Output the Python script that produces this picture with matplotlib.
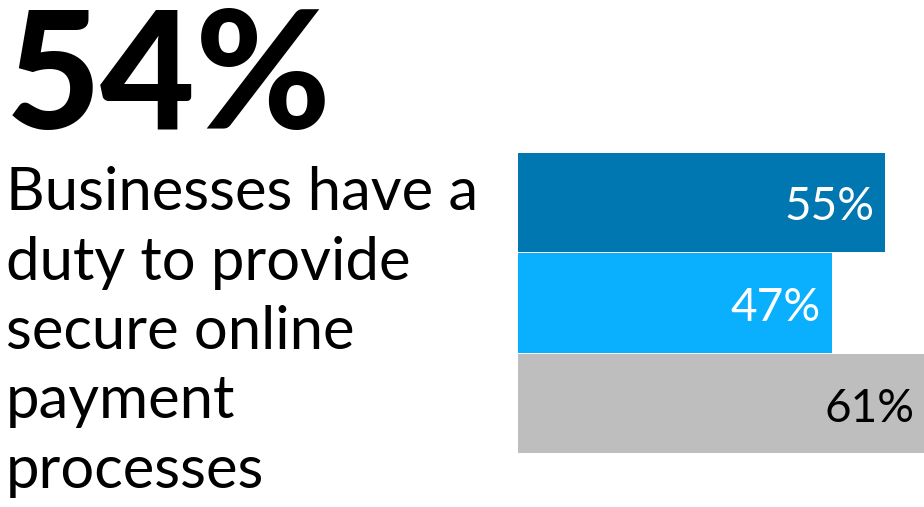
import matplotlib
matplotlib.use("Agg")
import matplotlib.pyplot as plt

# data
headline = "54%"
desc_lines = ["Businesses have a", "duty to provide", "secure online", "payment", "processes"]
values = [55, 47, 61]
labels = ["55%", "47%", "61%"]
colors = ["#0077B0", "#0AB0FE", "#BEBEBE"]
text_colors = ["white", "white", "black"]

W, H = 924, 507
fig = plt.figure(figsize=(W / 100, H / 100), dpi=100)

# big number
fig.text(6 / W, 1 - 129 / H, headline, fontsize=118, fontweight="black",
         family="Lato", color="black", ha="left", va="baseline")

# description, one line per baseline
for i, line in enumerate(desc_lines):
    fig.text(6 / W, 1 - (210 + i * 69.5) / H, line, fontsize=43,
             family="Lato", color="black", ha="left", va="baseline")

# bars
ax = fig.add_axes([518 / W, 1 - 454 / H, (W - 518) / W, 302 / H])
y = list(range(len(values)))
ax.barh(y, values, height=0.99, color=colors)
ax.set_ylim(2.5, -0.5)
ax.set_xlim(0, 60.8)
for yi, v, lab, tc in zip(y, values, labels, text_colors):
    ax.annotate(lab, (v, yi + 0.05), xytext=(-8, 0), textcoords="offset points",
                ha="right", va="center", fontsize=33, family="Lato", color=tc,
                annotation_clip=False)
ax.axis("off")

fig.savefig("out.png", dpi=100)
